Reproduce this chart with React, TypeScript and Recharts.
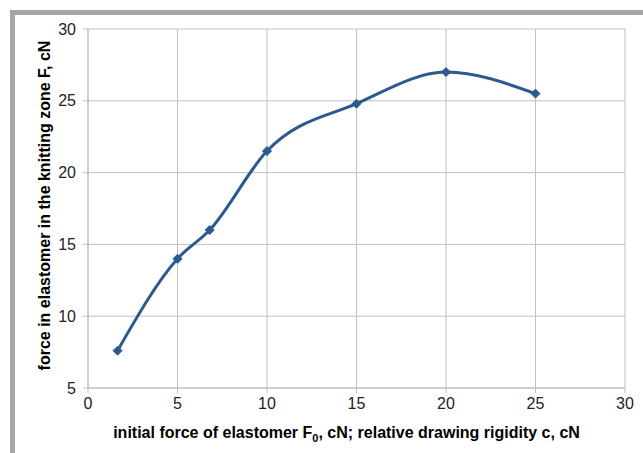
import React from "react";
import { LineChart, Line, XAxis, YAxis, CartesianGrid } from "recharts";

const xValues = [1.65, 5, 6.8, 10, 15, 20, 25];
const yValues = [7.6, 14.0, 16.0, 21.5, 24.8, 27.0, 25.5];
const xTicks = [0, 5, 10, 15, 20, 25, 30];
const yTicks = [5, 10, 15, 20, 25, 30];

const data = xValues.map((x, i) => ({ x, y: yValues[i] }));

const LINE_COLOR = "#2b5a8f";
const GRID = "#c0c0c0";
const FONT = "'Liberation Sans', Arial, sans-serif";

const Diamond = (props: any) => {
  const { cx, cy } = props;
  if (cx == null || cy == null) return null;
  const r = 4.5;
  return (
    <path
      d={`M${cx},${cy - r} L${cx + r},${cy} L${cx},${cy + r} L${cx - r},${cy} Z`}
      fill={LINE_COLOR}
      stroke={LINE_COLOR}
      strokeWidth={1}
    />
  );
};

const XLabel = (props: any) => {
  const vb = props.viewBox || {};
  const cx = vb.x + vb.width / 2 - 10;
  return (
    <text
      x={cx}
      y={438}
      textAnchor="middle"
      fontFamily={FONT}
      fontWeight="bold"
      fontSize={16}
      fill="#000"
    >
      initial force of elastomer F
      <tspan fontSize={11} dy={4}>0</tspan>
      <tspan dy={-4}>, cN; relative drawing rigidity c, cN</tspan>
    </text>
  );
};

const YLabel = (props: any) => {
  const vb = props.viewBox || {};
  const cy = vb.y + vb.height / 2 - 3;
  const x = 44;
  return (
    <text
      x={x}
      y={cy}
      transform={`rotate(-90, ${x}, ${cy})`}
      textAnchor="middle"
      dominantBaseline="central"
      fontFamily={FONT}
      fontWeight="bold"
      fontSize={16}
      fill="#000"
    >
      force in elastomer in the knitting zone F, cN
    </text>
  );
};

export default function App() {
  return (
    <div style={{ position: "absolute", left: 0, top: 0, width: 643, height: 453, background: "#fff", overflow: "hidden" }}>
      <div
        style={{
          position: "absolute",
          left: 10,
          top: 10,
          width: 643,
          height: 453,
          borderTop: "5px solid #a6a6a6",
          borderLeft: "5px solid #a6a6a6",
          boxSizing: "border-box",
        }}
      />
      <div style={{ position: "absolute", left: 0, top: 0 }}>
        <LineChart
          width={643}
          height={453}
          data={data}
          margin={{ top: 29, right: 18, bottom: 0, left: 0 }}
        >
          <CartesianGrid stroke={GRID} strokeWidth={1} />
          <XAxis
            dataKey="x"
            type="number"
            domain={[0, 30]}
            ticks={xTicks}
            interval={0}
            stroke={GRID}
            tickLine={{ stroke: GRID }}
            tickSize={5}
            tickMargin={5}
            height={65}
            tick={{ fill: "#222", fontSize: 16, fontFamily: FONT }}
            label={<XLabel />}
          />
          <YAxis
            type="number"
            domain={[5, 30]}
            ticks={yTicks}
            interval={0}
            stroke={GRID}
            tickLine={{ stroke: GRID }}
            tickSize={5}
            tickMargin={7}
            width={88}
            tick={{ fill: "#222", fontSize: 16, fontFamily: FONT }}
            label={<YLabel />}
          />
          <Line
            dataKey="y"
            type="monotone"
            stroke={LINE_COLOR}
            strokeWidth={3}
            dot={<Diamond />}
            activeDot={false}
            isAnimationActive={false}
          />
        </LineChart>
      </div>
    </div>
  );
}
